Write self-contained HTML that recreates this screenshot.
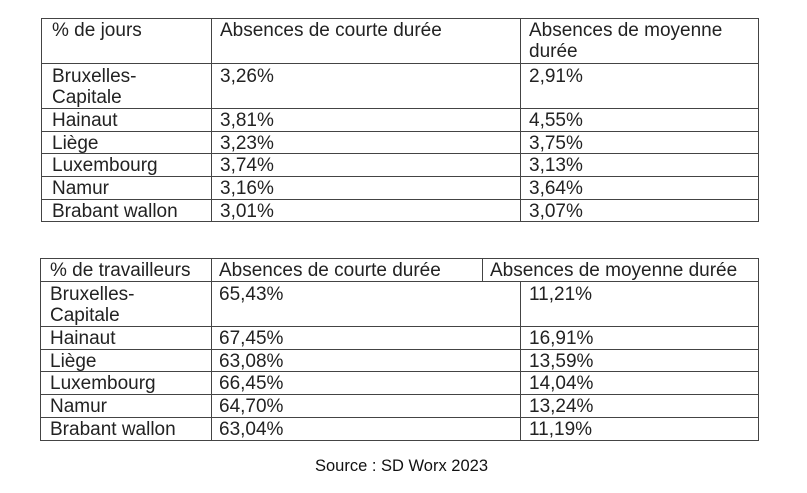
<!DOCTYPE html>
<html><head><meta charset="utf-8"><style>
body{margin:0;background:#fff;width:807px;height:493px;position:relative;overflow:hidden;font-family:"Liberation Sans",Arial,sans-serif;}
.h{position:absolute;height:1px;background:#444;}
.v{position:absolute;width:1px;background:#444;}
.t{position:absolute;font-size:19px;line-height:18px;color:#222;white-space:nowrap;}
.m{line-height:21px;margin-top:-1px;}
</style></head><body>
<!-- table 1 -->
<div class="h" style="left:41px;width:718px;top:18px"></div>
<div class="h" style="left:41px;width:718px;top:63px"></div>
<div class="h" style="left:41px;width:718px;top:108px"></div>
<div class="h" style="left:41px;width:718px;top:131px"></div>
<div class="h" style="left:41px;width:718px;top:153px"></div>
<div class="h" style="left:41px;width:718px;top:176px"></div>
<div class="h" style="left:41px;width:718px;top:199px"></div>
<div class="h" style="left:41px;width:718px;top:221px"></div>
<div class="v" style="left:41px;top:18px;height:204px"></div>
<div class="v" style="left:211px;top:18px;height:204px"></div>
<div class="v" style="left:520px;top:18px;height:204px"></div>
<div class="v" style="left:758px;top:18px;height:204px"></div>

<div class="t" style="left:52px;top:22px">% de jours</div>
<div class="t" style="left:220px;top:22px">Absences de courte durée</div>
<div class="t m" style="left:529px;top:21px">Absences de moyenne<br>durée</div>
<div class="t m" style="left:52px;top:67px">Bruxelles-<br>Capitale</div>
<div class="t" style="left:220px;top:68px">3,26%</div>
<div class="t" style="left:529px;top:68px">2,91%</div>
<div class="t" style="left:52px;top:112px">Hainaut</div>
<div class="t" style="left:220px;top:112px">3,81%</div>
<div class="t" style="left:529px;top:112px">4,55%</div>
<div class="t" style="left:52px;top:135px">Liège</div>
<div class="t" style="left:220px;top:135px">3,23%</div>
<div class="t" style="left:529px;top:135px">3,75%</div>
<div class="t" style="left:52px;top:157px">Luxembourg</div>
<div class="t" style="left:220px;top:157px">3,74%</div>
<div class="t" style="left:529px;top:157px">3,13%</div>
<div class="t" style="left:52px;top:180px">Namur</div>
<div class="t" style="left:220px;top:180px">3,16%</div>
<div class="t" style="left:529px;top:180px">3,64%</div>
<div class="t" style="left:52px;top:203px">Brabant wallon</div>
<div class="t" style="left:220px;top:203px">3,01%</div>
<div class="t" style="left:529px;top:203px">3,07%</div>

<!-- table 2 -->
<div class="h" style="left:40px;width:719px;top:258px"></div>
<div class="h" style="left:40px;width:719px;top:281px"></div>
<div class="h" style="left:40px;width:719px;top:326px"></div>
<div class="h" style="left:40px;width:719px;top:349px"></div>
<div class="h" style="left:40px;width:719px;top:371px"></div>
<div class="h" style="left:40px;width:719px;top:394px"></div>
<div class="h" style="left:40px;width:719px;top:417px"></div>
<div class="h" style="left:40px;width:719px;top:440px"></div>
<div class="v" style="left:40px;top:258px;height:183px"></div>
<div class="v" style="left:211px;top:258px;height:183px"></div>
<div class="v" style="left:482px;top:258px;height:23px"></div>
<div class="v" style="left:520px;top:281px;height:160px"></div>
<div class="v" style="left:758px;top:258px;height:183px"></div>

<div class="t" style="left:50px;top:262px">% de travailleurs</div>
<div class="t" style="left:219px;top:262px">Absences de courte durée</div>
<div class="t" style="left:490px;top:262px">Absences de moyenne durée</div>
<div class="t m" style="left:50px;top:285px">Bruxelles-<br>Capitale</div>
<div class="t" style="left:219px;top:286px">65,43%</div>
<div class="t" style="left:529px;top:286px">11,21%</div>
<div class="t" style="left:50px;top:330px">Hainaut</div>
<div class="t" style="left:219px;top:330px">67,45%</div>
<div class="t" style="left:529px;top:330px">16,91%</div>
<div class="t" style="left:50px;top:353px">Liège</div>
<div class="t" style="left:219px;top:353px">63,08%</div>
<div class="t" style="left:529px;top:353px">13,59%</div>
<div class="t" style="left:50px;top:375px">Luxembourg</div>
<div class="t" style="left:219px;top:375px">66,45%</div>
<div class="t" style="left:529px;top:375px">14,04%</div>
<div class="t" style="left:50px;top:398px">Namur</div>
<div class="t" style="left:219px;top:398px">64,70%</div>
<div class="t" style="left:529px;top:398px">13,24%</div>
<div class="t" style="left:50px;top:421px">Brabant wallon</div>
<div class="t" style="left:219px;top:421px">63,04%</div>
<div class="t" style="left:529px;top:421px">11,19%</div>

<div class="t" style="left:0;width:803px;text-align:center;top:457px;font-size:16.5px;color:#111">Source : SD Worx 2023</div>
</body></html>
